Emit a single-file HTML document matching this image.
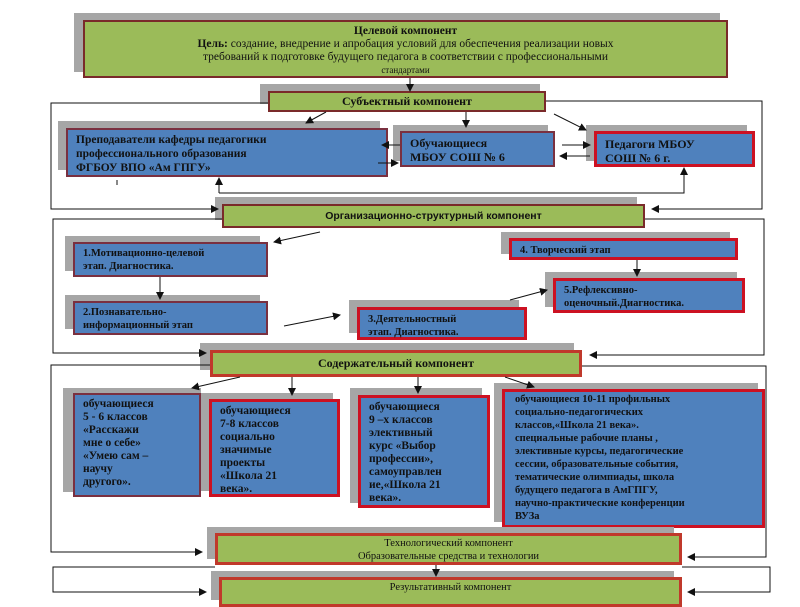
<!DOCTYPE html><html><head><meta charset="utf-8"><style>
body{margin:0;width:800px;height:600px;background:#fff;position:relative;overflow:hidden;font-family:"Liberation Serif",serif;}
.b{position:absolute;box-sizing:border-box;font-weight:bold;color:#111;font-size:11px;line-height:13px;}
.g{background:#9bbb59;border:2px solid #7a2a2a;text-align:center;}
.gr{background:#9bbb59;border:3px solid #c0392b;text-align:center;}
.bl{background:#4f81bd;border:2px solid #7a3040;padding:3px 8px;}
.br{background:#4f81bd;border:3px solid #cc1122;padding:3px 8px;}
.s{position:absolute;background:#a6a6a6;}
svg{position:absolute;left:0;top:0}
</style></head><body>
<div class="s" style="left:74px;top:13px;width:646px;height:59px"></div>
<div class="b g" style="left:83px;top:20px;width:645px;height:58px;padding-top:3px;font-weight:normal;font-size:11.5px">
<b>Целевой компонент</b><br><b>Цель:</b> создание, внедрение и апробация условий для обеспечения реализации новых<br>требований к подготовке будущего педагога в соответствии с профессиональными<br><span style="font-size:9px">стандартами</span></div>
<div class="s" style="left:260px;top:84px;width:280px;height:20px"></div>
<div class="b g" style="left:268px;top:91px;width:278px;height:21px;padding-top:2px;font-size:12px">Субъектный компонент</div>
<div class="s" style="left:58px;top:121px;width:322px;height:49px"></div>
<div class="b bl" style="left:66px;top:128px;width:322px;height:49px;font-size:11.5px;line-height:14px">Преподаватели кафедры педагогики<br>профессионального образования<br>ФГБОУ ВПО «Ам ГПГУ»</div>
<div class="s" style="left:393px;top:125px;width:155px;height:36px"></div>
<div class="b bl" style="left:400px;top:131px;width:155px;height:36px;font-size:12px;line-height:14px">Обучающиеся<br>МБОУ СОШ № 6</div>
<div class="s" style="left:586px;top:125px;width:161px;height:36px"></div>
<div class="b br" style="left:594px;top:131px;width:161px;height:36px;font-size:12px;line-height:14px">Педагоги МБОУ<br>СОШ № 6 г.</div>
<div class="s" style="left:215px;top:197px;width:422px;height:23px"></div>
<div class="b g" style="left:222px;top:204px;width:423px;height:24px;padding-top:4px;font-family:'Liberation Sans',sans-serif;font-size:10.5px">Организационно-структурный компонент</div>
<div class="s" style="left:65px;top:236px;width:195px;height:35px"></div>
<div class="b bl" style="left:73px;top:242px;width:195px;height:35px;font-size:10.5px">1.Мотивационно-целевой<br>этап. Диагностика.</div>
<div class="s" style="left:65px;top:295px;width:195px;height:34px"></div>
<div class="b bl" style="left:73px;top:301px;width:195px;height:34px;font-size:10.5px">2.Познавательно-<br>информационный этап</div>
<div class="s" style="left:349px;top:300px;width:170px;height:33px"></div>
<div class="b br" style="left:357px;top:307px;width:170px;height:33px;font-size:10.5px">3.Деятельностный<br>этап. Диагностика.</div>
<div class="s" style="left:501px;top:232px;width:229px;height:22px"></div>
<div class="b br" style="left:509px;top:238px;width:229px;height:22px;font-size:10.5px">4. Творческий этап</div>
<div class="s" style="left:545px;top:272px;width:192px;height:35px"></div>
<div class="b br" style="left:553px;top:278px;width:192px;height:35px;font-size:10.5px">5.Рефлексивно-<br>оценочный.Диагностика.</div>
<div class="s" style="left:200px;top:343px;width:374px;height:27px"></div>
<div class="b gr" style="left:210px;top:350px;width:372px;height:27px;padding-top:4px;font-size:12px">Содержательный компонент</div>
<div class="s" style="left:63px;top:388px;width:138px;height:104px"></div>
<div class="b bl" style="left:73px;top:393px;width:128px;height:104px;font-size:11.5px">обучающиеся<br>5 - 6 классов<br>«Расскажи<br>мне о себе»<br>«Умею сам –<br>научу<br>другого».</div>
<div class="s" style="left:201px;top:393px;width:132px;height:98px"></div>
<div class="b br" style="left:209px;top:399px;width:131px;height:98px;font-size:11.5px">обучающиеся<br>7-8 классов<br>социально<br>значимые<br>проекты<br>«Школа 21<br>века».</div>
<div class="s" style="left:350px;top:388px;width:132px;height:115px"></div>
<div class="b br" style="left:358px;top:395px;width:132px;height:113px;font-size:11.5px">обучающиеся<br>9 –х классов<br>элективный<br>курс «Выбор<br>профессии»,<br>самоуправлен<br>ие,«Школа 21<br>века».</div>
<div class="s" style="left:494px;top:383px;width:264px;height:139px"></div>
<div class="b br" style="left:502px;top:389px;width:263px;height:139px;font-size:10.5px;line-height:13px;padding:1px 10px">обучающиеся 10-11 профильных<br>социально-педагогических<br>классов,«Школа 21 века».<br>специальные рабочие планы ,<br>элективные курсы, педагогические<br>сессии, образовательные события,<br>тематические олимпиады, школа<br>будущего педагога в АмГПГУ,<br>научно-практические конференции<br>ВУЗа</div>
<div class="s" style="left:207px;top:527px;width:467px;height:32px"></div>
<div class="b gr" style="left:215px;top:533px;width:467px;height:32px;padding-top:1px;font-weight:normal;font-size:10.5px">Технологический компонент<br>Образовательные средства и технологии</div>
<div class="s" style="left:211px;top:571px;width:463px;height:29px"></div>
<div class="b gr" style="left:219px;top:577px;width:463px;height:30px;padding-top:1px;font-weight:normal;font-size:10.5px">Результативный компонент</div>
<svg width="800" height="600">
<defs><marker id="a" markerWidth="8" markerHeight="8" refX="7" refY="4" orient="auto" markerUnits="userSpaceOnUse"><path d="M0,0L8,4L0,8z" fill="#111"/></marker></defs>
<g stroke="#111" stroke-width="1" fill="none">
<path d="M410 78V91" marker-end="url(#a)"/>
<path d="M268 103H51V209H218" marker-end="url(#a)"/>
<path d="M546 101H762V209H652" marker-end="url(#a)"/>
<path d="M326 112L306 123" marker-end="url(#a)"/>
<path d="M466 112V127" marker-end="url(#a)"/>
<path d="M554 114L586 130" marker-end="url(#a)"/>
<path d="M400 145H382" marker-end="url(#a)"/>
<path d="M378 163H398" marker-end="url(#a)"/>
<path d="M562 145H590" marker-end="url(#a)"/>
<path d="M590 156H560" marker-end="url(#a)"/>
<path d="M219 193V179M219 193H684V169" />
<path d="M219 181L219 178" marker-end="url(#a)"/>
<path d="M684 171L684 168" marker-end="url(#a)"/>
<path d="M117 180V185"/>
<path d="M222 219H53V353H206" marker-end="url(#a)"/>
<path d="M645 219H764V355H590" marker-end="url(#a)"/>
<path d="M320 232L274 242" marker-end="url(#a)"/>
<path d="M160 277V299" marker-end="url(#a)"/>
<path d="M284 326L340 315" marker-end="url(#a)"/>
<path d="M510 300L547 290" marker-end="url(#a)"/>
<path d="M637 260V276" marker-end="url(#a)"/>
<path d="M210 365H51V552H202" marker-end="url(#a)"/>
<path d="M582 366H766V557H688" marker-end="url(#a)"/>
<path d="M240 377L192 388" marker-end="url(#a)"/>
<path d="M292 377V395" marker-end="url(#a)"/>
<path d="M418 377V393" marker-end="url(#a)"/>
<path d="M505 377L534 387" marker-end="url(#a)"/>
<path d="M436 565V576" marker-end="url(#a)"/>
<path d="M215 567H53V592H206" marker-end="url(#a)"/>
<path d="M682 567H770V592H688" marker-end="url(#a)"/>
</g></svg>
</body></html>
